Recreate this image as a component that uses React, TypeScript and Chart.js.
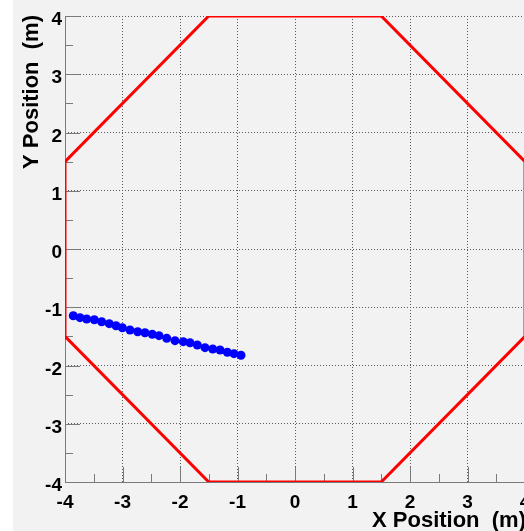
import React, { useEffect, useRef } from "react";
import { Chart, registerables } from "chart.js";

Chart.register(...registerables);

// Blue track points (metres)
const trackX = [
  -3.856, -3.739, -3.623, -3.49, -3.362, -3.23, -3.113, -3.003, -2.87, -2.736, -2.609, -2.482,
  -2.365, -2.231, -2.087, -1.943, -1.826, -1.699, -1.565, -1.431, -1.304, -1.177, -1.061, -0.939,
];
const trackY = [
  -1.145, -1.179, -1.202, -1.214, -1.248, -1.282, -1.317, -1.351, -1.391, -1.42, -1.437, -1.464,
  -1.488, -1.533, -1.574, -1.591, -1.609, -1.648, -1.694, -1.717, -1.734, -1.773, -1.797, -1.825,
];

// Red octagon outline
const octX = [-1.5, 1.5, 4, 4, 1.5, -1.5, -4, -4, -1.5];
const octY = [4, 4, 1.5, -1.5, -4, -4, -1.5, 1.5, 4];

const axisMin = -4;
const axisMax = 4;
const xTitle = "X Position  (m)";
const yTitle = "Y Position  (m)";

const W = 560;
const H = 531;
const FONT = '"Liberation Sans", Arial, Helvetica, sans-serif';

const rootPlugin = {
  id: "rootStyle",
  beforeDraw(chart: any) {
    const ctx = chart.ctx;
    ctx.save();
    ctx.fillStyle = "#ffffff";
    ctx.fillRect(0, 0, chart.width, chart.height);
    ctx.fillStyle = "#f2f2f2";
    ctx.fillRect(13, 0, chart.width - 13, chart.height);
    ctx.restore();
  },
  beforeDatasetsDraw(chart: any) {
    const ctx = chart.ctx;
    const xs = chart.scales.x;
    const ys = chart.scales.y;
    const { left, bottom, top, right } = chart.chartArea;
    ctx.save();
    ctx.strokeStyle = "#7a7a7a";
    ctx.lineWidth = 1;
    ctx.beginPath();
    ctx.moveTo(left + 0.5, top);
    ctx.lineTo(left + 0.5, bottom + 0.5);
    ctx.lineTo(right, bottom + 0.5);
    ctx.stroke();
    ctx.beginPath();
    for (let v = axisMin; v <= axisMax + 1e-9; v += 0.5) {
      const major = Math.abs(v - Math.round(v)) < 1e-9;
      const len = major ? 15 : 8;
      const py = Math.round(ys.getPixelForValue(v)) + 0.5;
      ctx.moveTo(left, py);
      ctx.lineTo(left + len, py);
      const px = Math.round(xs.getPixelForValue(v)) + 0.5;
      ctx.moveTo(px, bottom);
      ctx.lineTo(px, bottom - len);
    }
    ctx.stroke();
    ctx.restore();
  },
  afterDraw(chart: any) {
    const ctx = chart.ctx;
    const xs = chart.scales.x;
    const ys = chart.scales.y;
    ctx.save();
    ctx.fillStyle = "#000000";
    ctx.font = `bold 22px ${FONT}`;
    ctx.textAlign = "right";
    ctx.textBaseline = "alphabetic";
    ctx.fillText(xTitle, xs.getPixelForValue(axisMax) + 1, 527);
    ctx.translate(37.5, ys.getPixelForValue(axisMax) - 1);
    ctx.rotate(-Math.PI / 2);
    ctx.fillText(yTitle, 0, 0);
    ctx.restore();
  },
};

export default function App() {
  const ref = useRef<HTMLCanvasElement | null>(null);

  useEffect(() => {
    document.body.style.margin = "0";
    document.body.style.overflow = "hidden";
    const canvas = ref.current;
    if (!canvas) return;
    const gridDash = [1, 2];
    const chart = new Chart(canvas, {
      type: "scatter",
      data: {
        datasets: [
          {
            label: "track",
            data: trackX.map((x, i) => ({ x, y: trackY[i] })),
            backgroundColor: "#0000ff",
            borderColor: "#0000ff",
            pointRadius: 4.5,
            pointBorderWidth: 0,
            showLine: false,
            order: 0,
          },
          {
            label: "octagon",
            data: octX.map((x, i) => ({ x, y: octY[i] })),
            borderColor: "#ff0000",
            backgroundColor: "#ff0000",
            borderWidth: 3,
            pointRadius: 0,
            showLine: true,
            fill: false,
            order: 1,
          },
        ],
      },
      options: {
        responsive: false,
        animation: false,
        devicePixelRatio: 1,
        layout: { padding: { left: 0, top: 16, right: W - 525, bottom: 0 } },
        plugins: { legend: { display: false }, tooltip: { enabled: false } },
        scales: {
          x: {
            type: "linear",
            min: axisMin,
            max: axisMax,
            afterFit: (s: any) => {
              s.height = H - 482;
            },
            ticks: {
              stepSize: 1,
              padding: 9,
              color: "#000000",
              font: { family: FONT, size: 19, weight: "bold" },
            },
            grid: { color: "#5a5a5a", lineWidth: 1, drawTicks: false },
            border: { display: false, dash: gridDash },
          },
          y: {
            type: "linear",
            min: axisMin,
            max: axisMax,
            afterFit: (s: any) => {
              s.width = 65;
            },
            ticks: {
              stepSize: 1,
              padding: 3,
              labelOffset: 4,
              color: "#000000",
              font: { family: FONT, size: 19, weight: "bold" },
            },
            grid: { color: "#5a5a5a", lineWidth: 1, drawTicks: false },
            border: { display: false, dash: gridDash },
          },
        },
      },
      plugins: [rootPlugin],
    } as any);
    return () => chart.destroy();
  }, []);

  return (
    <div style={{ position: "fixed", left: 0, top: 0, width: 524, height: 531, overflow: "hidden" }}>
      <canvas ref={ref} width={W} height={H} style={{ display: "block", width: W, height: H }} />
    </div>
  );
}
